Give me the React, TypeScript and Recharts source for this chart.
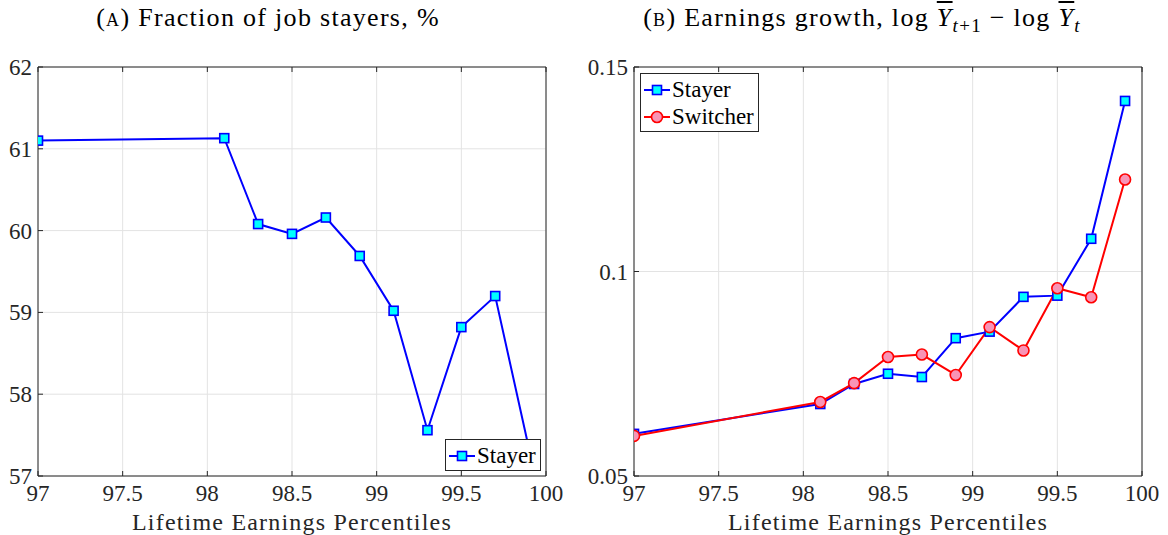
import React from 'react';
import { LineChart, Line, XAxis, YAxis, CartesianGrid, Legend } from 'recharts';

const xTicks = [97, 97.5, 98, 98.5, 99, 99.5, 100];
const percentiles = [97, 98.1, 98.3, 98.5, 98.7, 98.9, 99.1, 99.3, 99.5, 99.7, 99.9];
const stayerFraction = [61.10, 61.13, 60.08, 59.96, 60.16, 59.69, 59.02, 57.56, 58.82, 59.20, 57.33];
const fractionTicks = [57, 58, 59, 60, 61, 62];
const stayerGrowth = [0.0603, 0.0676, 0.0725, 0.0750, 0.0742, 0.0837, 0.0853, 0.0938, 0.0941, 0.1080, 0.1417];
const switcherGrowth = [0.0598, 0.0681, 0.0727, 0.0791, 0.0797, 0.0747, 0.0864, 0.0807, 0.0959, 0.0937, 0.1225];
const growthTicks = [0.05, 0.1, 0.15];

const dataA = percentiles.map((p, i) => ({ p, stayer: stayerFraction[i] }));
const dataB = percentiles.map((p, i) => ({ p, stayer: stayerGrowth[i], switcher: switcherGrowth[i] }));

const FONT = '"Liberation Serif"';
const AX = '#262626';
const GRID = '#e3e3e3';
const BLUE = '#0000ff';
const CYAN = '#00ffff';
const RED = '#ff0000';
const PINK = '#f894b6';

const SquareDot = (props: any) => {
  const { cx, cy, index } = props;
  if (cx == null || cy == null) return <g key={`sq-${index}`} />;
  return (
    <rect key={`sq-${index}`} x={cx - 4.5} y={cy - 4.5} width={9} height={9}
      fill={CYAN} stroke={BLUE} strokeWidth={1.6} />
  );
};

const BottomTick = (props: any) => {
  const { x, y, payload } = props;
  return (
    <g>
      <line x1={x} y1={y} x2={x} y2={y - 5} stroke={AX} strokeWidth={1} />
      <text x={x} y={y + 25} textAnchor="middle" fontSize={23} fill={AX} style={{ fontFamily: FONT }}>
        {String(payload.value)}
      </text>
    </g>
  );
};

const TopTick = (props: any) => {
  const { x, y } = props;
  return <line x1={x} y1={y} x2={x} y2={y + 5} stroke={AX} strokeWidth={1} />;
};

const LeftTick = (props: any) => {
  const { x, y, payload } = props;
  return (
    <g>
      <line x1={x} y1={y} x2={x + 5} y2={y} stroke={AX} strokeWidth={1} />
      <text x={x - 6} y={y + 8} textAnchor="end" fontSize={23} fill={AX} style={{ fontFamily: FONT }}>
        {String(payload.value)}
      </text>
    </g>
  );
};

const RightTick = (props: any) => {
  const { x, y } = props;
  return <line x1={x} y1={y} x2={x - 5} y2={y} stroke={AX} strokeWidth={1} />;
};

const LegendSample = ({ kind }: { kind: 'sq' | 'ci' }) => (
  <svg width={26} height={20} style={{ display: 'block' }}>
    <line x1={0} y1={10} x2={26} y2={10} stroke={kind === 'sq' ? BLUE : RED} strokeWidth={2} />
    {kind === 'sq' ? (
      <rect x={8.5} y={5.5} width={9} height={9} fill={CYAN} stroke={BLUE} strokeWidth={1.6} />
    ) : (
      <circle cx={13} cy={10} r={5.5} fill={PINK} stroke={RED} strokeWidth={1.6} />
    )}
  </svg>
);

const makeLegend = (items: { label: string; kind: 'sq' | 'ci' }[]) => () => (
  <div style={{ border: `1px solid ${AX}`, background: '#fff', padding: '2px 4px 1px 3px', fontFamily: FONT }}>
    {items.map((it) => (
      <div key={it.label} style={{ display: 'flex', alignItems: 'center', height: 27 }}>
        <LegendSample kind={it.kind} />
        <span style={{ fontSize: 23, color: '#000', marginLeft: 2, lineHeight: '27px', fontFamily: FONT }}>{it.label}</span>
      </div>
    ))}
  </div>
);

const xLabel = {
  value: 'Lifetime Earnings Percentiles',
  position: 'insideBottom' as const,
  offset: 5,
  style: { fontSize: 24, fill: AX, fontFamily: FONT, letterSpacing: 1.2 },
};

const titleStyle: React.CSSProperties = {
  position: 'absolute', top: 3, width: 600, textAlign: 'center', fontSize: 26,
  lineHeight: '30px', color: '#000', fontFamily: FONT, whiteSpace: 'nowrap', letterSpacing: 1.3,
};

export default function App() {
  return (
    <div style={{ position: 'absolute', left: 0, top: 0, width: 1168, height: 535, background: '#fff', fontFamily: FONT, overflow: 'hidden' }}>
      <div style={{ ...titleStyle, left: 268 - 300 }}>
        (<span style={{ fontVariant: 'small-caps' }}>a</span>) Fraction of job stayers, %
      </div>
      <div style={{ ...titleStyle, left: 862 - 300 }}>
        (<span style={{ fontVariant: 'small-caps' }}>b</span>) Earnings growth, log{' '}
        <span style={{ fontStyle: 'italic', textDecoration: 'overline' }}>Y</span>
        <sub style={{ fontSize: 19 }}><i>t</i>+1</sub> − log{' '}
        <span style={{ fontStyle: 'italic', textDecoration: 'overline' }}>Y</span>
        <sub style={{ fontSize: 19 }}><i>t</i></sub>
      </div>

      <div style={{ position: 'absolute', left: 0, top: 0 }}>
        <LineChart width={584} height={535} data={dataA} margin={{ top: 66, right: 37, bottom: 0, left: 0 }}>
          <CartesianGrid stroke={GRID} strokeWidth={1} />
          <XAxis dataKey="p" type="number" domain={[97, 100]} ticks={xTicks} interval={0}
            tickSize={0} tickMargin={0} tickLine={false} height={59}
            axisLine={{ stroke: AX }} tick={<BottomTick />} label={xLabel} allowDataOverflow />
          <XAxis xAxisId="t" orientation="top" dataKey="p" type="number" domain={[97, 100]} ticks={xTicks}
            interval={0} tickSize={0} tickMargin={0} tickLine={false} height={1}
            axisLine={{ stroke: AX }} tick={<TopTick />} />
          <YAxis type="number" domain={[57, 62]} ticks={fractionTicks} interval={0} width={38}
            tickSize={0} tickMargin={0} tickLine={false} axisLine={{ stroke: AX }} tick={<LeftTick />} allowDataOverflow />
          <YAxis yAxisId="r" orientation="right" type="number" domain={[57, 62]} ticks={fractionTicks} interval={0}
            width={1} tickSize={0} tickMargin={0} tickLine={false} axisLine={{ stroke: AX }} tick={<RightTick />} />
          <Line dataKey="stayer" stroke={BLUE} strokeWidth={2} dot={SquareDot} isAnimationActive={false} />
          <Legend layout="vertical" align="center" verticalAlign="middle"
            wrapperStyle={{ left: 445, top: 439, width: 'auto', height: 'auto' }}
            content={makeLegend([{ label: 'Stayer', kind: 'sq' }])} />
        </LineChart>
      </div>

      <div style={{ position: 'absolute', left: 584, top: 0 }}>
        <LineChart width={584} height={535} data={dataB} margin={{ top: 66, right: 25, bottom: 0, left: 0 }}>
          <CartesianGrid stroke={GRID} strokeWidth={1} />
          <XAxis dataKey="p" type="number" domain={[97, 100]} ticks={xTicks} interval={0}
            tickSize={0} tickMargin={0} tickLine={false} height={59}
            axisLine={{ stroke: AX }} tick={<BottomTick />} label={xLabel} allowDataOverflow />
          <XAxis xAxisId="t" orientation="top" dataKey="p" type="number" domain={[97, 100]} ticks={xTicks}
            interval={0} tickSize={0} tickMargin={0} tickLine={false} height={1}
            axisLine={{ stroke: AX }} tick={<TopTick />} />
          <YAxis type="number" domain={[0.05, 0.15]} ticks={growthTicks} interval={0} width={50}
            tickSize={0} tickMargin={0} tickLine={false} axisLine={{ stroke: AX }} tick={<LeftTick />} allowDataOverflow />
          <YAxis yAxisId="r" orientation="right" type="number" domain={[0.05, 0.15]} ticks={growthTicks} interval={0}
            width={1} tickSize={0} tickMargin={0} tickLine={false} axisLine={{ stroke: AX }} tick={<RightTick />} />
          <Line dataKey="stayer" stroke={BLUE} strokeWidth={2} dot={SquareDot} isAnimationActive={false} />
          <Line dataKey="switcher" stroke={RED} strokeWidth={2}
            dot={{ r: 5.5, fill: PINK, stroke: RED, strokeWidth: 1.6 }} isAnimationActive={false} />
          <Legend layout="vertical" align="center" verticalAlign="middle"
            wrapperStyle={{ left: 56, top: 73, width: 'auto', height: 'auto' }}
            content={makeLegend([{ label: 'Stayer', kind: 'sq' }, { label: 'Switcher', kind: 'ci' }])} />
        </LineChart>
      </div>
    </div>
  );
}
